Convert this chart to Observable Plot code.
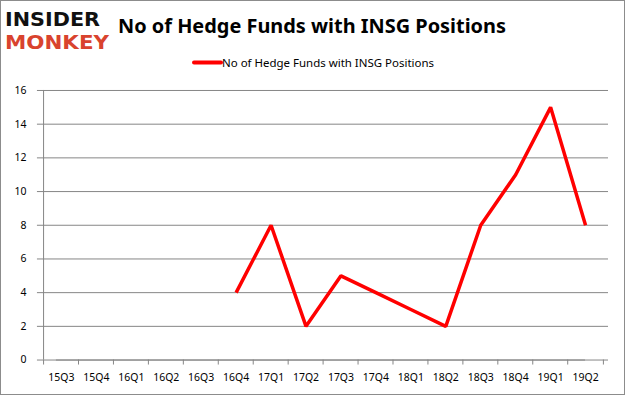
<!DOCTYPE html>
<html>
<head>
<meta charset="utf-8">
<script src="https://cdn.jsdelivr.net/npm/d3@7"></script>
<script src="https://cdn.jsdelivr.net/npm/@observablehq/plot@0.6"></script>
<style>
  html, body { margin: 0; padding: 0; background: #fff; }
  #wrap { position: relative; width: 625px; height: 395px; box-sizing: border-box; border: 1px solid #8c8c8c; overflow: hidden; font-family: "Noto Sans", "Open Sans", sans-serif; }
  #header { position: absolute; left: 0; top: 0; width: 625px; height: 80px; }
  #plot { position: absolute; left: -1px; top: 79px; }
</style>
</head>
<body>
<div id="wrap">
  <svg id="header" width="625" height="80">
    <text x="4" y="25" font-family="DejaVu Sans" font-weight="bold" font-size="19" fill="#111" textLength="95" lengthAdjust="spacingAndGlyphs">INSIDER</text>
    <text x="4" y="48" font-family="DejaVu Sans" font-weight="bold" font-size="19" fill="#d9432e" textLength="104" lengthAdjust="spacingAndGlyphs">MONKEY</text>
    <text x="117" y="32" font-family="Noto Sans" font-weight="bold" font-size="20" fill="#000" textLength="388" lengthAdjust="spacingAndGlyphs">No of Hedge Funds with INSG Positions</text>
    <line x1="193" x2="220" y1="61.5" y2="61.5" stroke="#ff0000" stroke-width="4" stroke-linecap="round"></line>
    <text x="221" y="66" font-family="Noto Sans" font-size="11.5" fill="#000" textLength="212" lengthAdjust="spacingAndGlyphs">No of Hedge Funds with INSG Positions</text>
  </svg>
  <div id="plot"></div>
</div>
<script>
const quarters = ["15Q3","15Q4","16Q1","16Q2","16Q3","16Q4","17Q1","17Q2","17Q3","17Q4","18Q1","18Q2","18Q3","18Q4","19Q1","19Q2"];
const funds = [null, null, null, null, null, 4, 8, 2, 5, 4, 3, 2, 8, 11, 15, 8];
const yTicks = [0, 2, 4, 6, 8, 10, 12, 14, 16];

const data = quarters.map((q, i) => ({q, v: funds[i]}));
const lineData = data.filter(d => d.v !== null);

const W = 625, H = 315, mL = 37, mR = 16, mT = 10, mB = 35;
const step = (W - mL - mR) / quarters.length;

const chart = Plot.plot({
  width: W,
  height: H,
  marginLeft: mL,
  marginRight: mR,
  marginTop: mT,
  marginBottom: mB,
  style: { fontFamily: "Noto Sans, sans-serif", fontSize: "10.5px", color: "#000", background: "transparent" },
  x: { type: "point", domain: quarters, padding: 0.5, label: null, tickSize: 0, tickPadding: 14 },
  y: { domain: [0, 16], ticks: yTicks, label: null, tickSize: 0, tickPadding: 11 },
  marks: [
    Plot.ruleY(yTicks, { stroke: "#868686", strokeWidth: 1, strokeOpacity: 1 }),
    Plot.ruleX([0], { x: () => quarters[0], dx: -step / 2, stroke: "#868686" }),
    Plot.ruleX(quarters, { x: d => d, y1: 0, y2: 0, insetBottom: -5, dx: -step / 2, stroke: "#868686" }),
    Plot.ruleX([quarters[quarters.length - 1]], { x: d => d, y1: 0, y2: 0, insetBottom: -5, dx: step / 2, stroke: "#868686" }),
    Plot.ruleY([0], { x1: () => quarters[0], x2: () => quarters[quarters.length - 1], dx: 0, stroke: "#868686", insetLeft: -5 }),
    Plot.lineY(lineData, { x: "q", y: "v", stroke: "#ff0000", strokeWidth: 3.5, strokeLinejoin: "miter", strokeLinecap: "butt" })
  ]
});
document.getElementById("plot").appendChild(chart);
</script>
</body>
</html>
